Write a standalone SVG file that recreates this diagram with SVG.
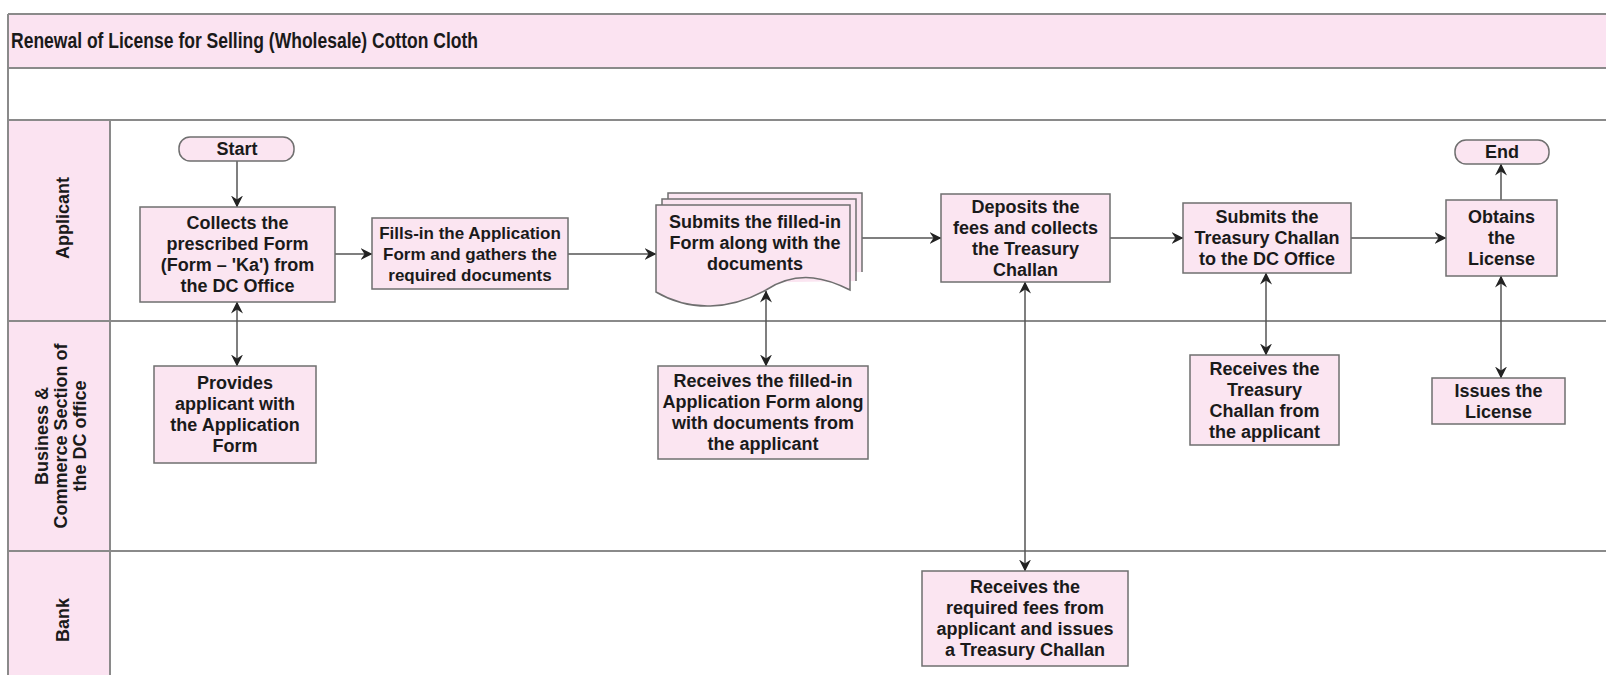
<svg xmlns="http://www.w3.org/2000/svg" width="1606" height="675" viewBox="0 0 1606 675">
  <style>
    .band{fill:#fbe3f1}
    .frame{stroke:#8a8a8a;stroke-width:2;fill:none}
    .node{fill:#fbe5f1;stroke:#6f6f6f;stroke-width:1.5}
    .t{font-family:"Liberation Sans",Arial,sans-serif;font-weight:bold;font-size:18px;fill:#1a1a1a;text-anchor:middle}
    .s17{font-size:17px}
    .title{font-family:"Liberation Sans",Arial,sans-serif;font-weight:bold;font-size:22px;fill:#1a1a1a}
    .edge{stroke:#555;stroke-width:1.5;fill:none}
  </style>
  <defs>
    <marker id="ah" viewBox="0 0 12 12" refX="11.5" refY="6" markerWidth="12" markerHeight="12" markerUnits="userSpaceOnUse" orient="auto-start-reverse">
      <path d="M0,0 L12,6 L0,12 L4,6 z" fill="#222222"/>
    </marker>
  </defs>
  <rect width="1606" height="675" fill="#ffffff"/>

  <g id="pool">
    <rect class="band" x="8" y="14" width="1600" height="54"/>
    <rect class="band" x="8" y="120" width="102" height="560"/>
    <line class="frame" x1="8" y1="14" x2="1606" y2="14"/>
    <line class="frame" x1="8" y1="68" x2="1606" y2="68"/>
    <line class="frame" x1="8" y1="120" x2="1606" y2="120"/>
    <line class="frame" x1="8" y1="321" x2="1606" y2="321"/>
    <line class="frame" x1="8" y1="551" x2="1606" y2="551"/>
    <line class="frame" x1="8" y1="14" x2="8" y2="675"/>
    <line class="frame" x1="110" y1="120" x2="110" y2="675"/>
    <text class="title" x="11" y="48" textLength="467" lengthAdjust="spacingAndGlyphs">Renewal of License for Selling (Wholesale) Cotton Cloth</text>
  </g>

  <g id="lane-applicant">
    <text class="t" transform="translate(69,218) rotate(-90)">Applicant</text>
  </g>
  <g id="lane-business">
    <text class="t" transform="translate(48,436) rotate(-90)">Business &amp;</text>
    <text class="t" transform="translate(67,436) rotate(-90)">Commerce Section of</text>
    <text class="t" transform="translate(86,436) rotate(-90)">the DC office</text>
  </g>
  <g id="lane-bank">
    <text class="t" transform="translate(69,620) rotate(-90)">Bank</text>
  </g>

  <g id="connectors">
    <line class="edge" x1="237" y1="161" x2="237" y2="207" marker-end="url(#ah)"/>
    <line class="edge" x1="335" y1="254" x2="372" y2="254" marker-end="url(#ah)"/>
    <line class="edge" x1="568" y1="254" x2="656" y2="254" marker-end="url(#ah)"/>
    <line class="edge" x1="862" y1="238" x2="941" y2="238" marker-end="url(#ah)"/>
    <line class="edge" x1="1110" y1="238" x2="1183" y2="238" marker-end="url(#ah)"/>
    <line class="edge" x1="1351" y1="238" x2="1446" y2="238" marker-end="url(#ah)"/>
    <line class="edge" x1="1501" y1="200" x2="1501" y2="164" marker-end="url(#ah)"/>
    <line class="edge" x1="237" y1="302" x2="237" y2="366" marker-start="url(#ah)" marker-end="url(#ah)"/>
    <line class="edge" x1="766" y1="291" x2="766" y2="366" marker-start="url(#ah)" marker-end="url(#ah)"/>
    <line class="edge" x1="1025" y1="282" x2="1025" y2="571" marker-start="url(#ah)" marker-end="url(#ah)"/>
    <line class="edge" x1="1266" y1="273" x2="1266" y2="355" marker-start="url(#ah)" marker-end="url(#ah)"/>
    <line class="edge" x1="1501" y1="276" x2="1501" y2="378" marker-start="url(#ah)" marker-end="url(#ah)"/>
  </g>

  <g id="n-start">
    <rect class="node" x="179" y="137" width="115" height="24" rx="11"/>
    <text class="t" x="237" y="155">Start</text>
  </g>
  <g id="n-collect">
    <rect class="node" x="140" y="207" width="195" height="95"/>
    <text class="t" x="237.5" y="229">Collects the</text>
    <text class="t" x="237.5" y="250">prescribed Form</text>
    <text class="t" x="237.5" y="271">(Form – 'Ka') from</text>
    <text class="t" x="237.5" y="292">the DC Office</text>
  </g>
  <g id="n-fill">
    <rect class="node" x="372" y="218" width="196" height="71"/>
    <text class="t s17" x="470" y="239">Fills-in the Application</text>
    <text class="t s17" x="470" y="260">Form and gathers the</text>
    <text class="t s17" x="470" y="281">required documents</text>
  </g>
  <g id="n-submit">
    <path class="node" d="M668,278 V193 H862 V272"/>
    <path class="node" d="M662,284 V199 H856 V281"/>
    <path class="node" d="M656,292 V205 H850 V290 C830,280 800,268 766,290 C730,310 690,312 656,292 z"/>
    <text class="t" x="755" y="228">Submits the filled-in</text>
    <text class="t" x="755" y="249">Form along with the</text>
    <text class="t" x="755" y="270">documents</text>
  </g>
  <g id="n-deposit">
    <rect class="node" x="941" y="194" width="169" height="88"/>
    <text class="t" x="1025.5" y="212.5">Deposits the</text>
    <text class="t" x="1025.5" y="233.5">fees and collects</text>
    <text class="t" x="1025.5" y="254.5">the Treasury</text>
    <text class="t" x="1025.5" y="275.5">Challan</text>
  </g>
  <g id="n-submit-challan">
    <rect class="node" x="1183" y="203" width="168" height="70"/>
    <text class="t" x="1267" y="223">Submits the</text>
    <text class="t" x="1267" y="244">Treasury Challan</text>
    <text class="t" x="1267" y="265">to the DC Office</text>
  </g>
  <g id="n-obtain">
    <rect class="node" x="1446" y="200" width="111" height="76"/>
    <text class="t" x="1501.5" y="223">Obtains</text>
    <text class="t" x="1501.5" y="244">the</text>
    <text class="t" x="1501.5" y="265">License</text>
  </g>
  <g id="n-end">
    <rect class="node" x="1455" y="140" width="94" height="24" rx="11"/>
    <text class="t" x="1502" y="158">End</text>
  </g>
  <g id="n-provide">
    <rect class="node" x="154" y="366" width="162" height="97"/>
    <text class="t" x="235" y="389">Provides</text>
    <text class="t" x="235" y="410">applicant with</text>
    <text class="t" x="235" y="431">the Application</text>
    <text class="t" x="235" y="452">Form</text>
  </g>
  <g id="n-receive-form">
    <rect class="node" x="658" y="366" width="210" height="93"/>
    <text class="t" x="763" y="387">Receives the filled-in</text>
    <text class="t" x="763" y="408">Application Form along</text>
    <text class="t" x="763" y="429">with documents from</text>
    <text class="t" x="763" y="450">the applicant</text>
  </g>
  <g id="n-receive-challan">
    <rect class="node" x="1190" y="355" width="149" height="90"/>
    <text class="t" x="1264.5" y="374.5">Receives the</text>
    <text class="t" x="1264.5" y="395.5">Treasury</text>
    <text class="t" x="1264.5" y="416.5">Challan from</text>
    <text class="t" x="1264.5" y="437.5">the applicant</text>
  </g>
  <g id="n-issue">
    <rect class="node" x="1432" y="378" width="133" height="46"/>
    <text class="t" x="1498.5" y="397">Issues the</text>
    <text class="t" x="1498.5" y="418">License</text>
  </g>
  <g id="n-bank">
    <rect class="node" x="922" y="571" width="206" height="95"/>
    <text class="t" x="1025" y="593">Receives the</text>
    <text class="t" x="1025" y="614">required fees from</text>
    <text class="t" x="1025" y="635">applicant and issues</text>
    <text class="t" x="1025" y="656">a Treasury Challan</text>
  </g>
</svg>
